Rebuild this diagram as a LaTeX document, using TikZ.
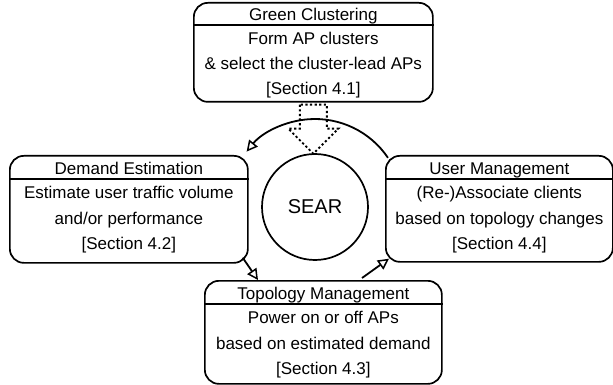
\documentclass[tikz,border=0pt]{standalone}
\usepackage{fontspec}
\setmainfont{Liberation Sans}
\usetikzlibrary{arrows.meta,calc}
\begin{document}
\begin{tikzpicture}[x=1pt,y=-1pt,
  box/.style={draw,line width=1.7pt,rounded corners=14pt,inner sep=0pt,anchor=north west},
  hline/.style={line width=1.4pt},
  txt/.style={font=\fontsize{17}{20}\selectfont,inner sep=0pt,anchor=base},
  arr/.style={line width=1.8pt,-{Triangle[open,length=11pt,width=11pt,line width=1.5pt]}},
  dots/.style={line width=1.9pt,dash pattern=on 2.2pt off 2.4pt}]
\useasboundingbox (0,0) rectangle (613,385);
% boxes
\node[box,minimum width=239pt,minimum height=99pt] (gc) at (193,2) {};
\node[box,minimum width=238pt,minimum height=107pt] (de) at (9,155) {};
\node[box,minimum width=227pt,minimum height=106pt] (um) at (385,155) {};
\node[box,minimum width=237pt,minimum height=103pt] (tm) at (204,280) {};
\node[draw,circle,line width=1.7pt,minimum size=106pt,inner sep=0pt,font=\fontsize{20}{24}\selectfont] (sear) at (315,207) {SEAR};
% header lines
\draw[hline] ($(gc.north west)+(0,23)$) -- ($(gc.north east)+(0,23)$);
\draw[hline] ($(de.north west)+(0,24)$) -- ($(de.north east)+(0,24)$);
\draw[hline] ($(um.north west)+(0,24)$) -- ($(um.north east)+(0,24)$);
\draw[hline] ($(tm.north west)+(0,24)$) -- ($(tm.north east)+(0,24)$);
% texts
\node[txt] (gc0) at ($(gc.north)+(0,19)$) {Green Clustering};
\node[txt] (gc1) at ($(gc.north)+(0,43)$) {Form AP clusters};
\node[txt] (gc2) at ($(gc.north)+(0,68)$) {\& select the cluster-lead APs};
\node[txt] (gc3) at ($(gc.north)+(0,93)$) {[Section 4.1]};
\node[txt] (de0) at ($(de.north)+(0,19)$) {Demand Estimation};
\node[txt] (de1) at ($(de.north)+(0,43)$) {Estimate user traffic volume};
\node[txt] (de2) at ($(de.north)+(0,69)$) {and/or performance};
\node[txt] (de3) at ($(de.north)+(0,94)$) {[Section 4.2]};
\node[txt] (um0) at ($(um.north)+(0,19)$) {User Management};
\node[txt] (um1) at ($(um.north)+(0,43)$) {(Re-)Associate clients};
\node[txt] (um2) at ($(um.north)+(0,69)$) {based on topology changes};
\node[txt] (um3) at ($(um.north)+(0,94)$) {[Section 4.4]};
\node[txt] (tm0) at ($(tm.north)+(0,19)$) {Topology Management};
\node[txt] (tm1) at ($(tm.north)+(0,43)$) {Power on or off APs};
\node[txt] (tm2) at ($(tm.north)+(0,69)$) {based on estimated demand};
\node[txt] (tm3) at ($(tm.north)+(0,94)$) {[Section 4.3]};
% cycle arc
\draw[arr] (sear.center) ++(-34:88) arc[start angle=-34,end angle=-141,radius=88];
% arrows between boxes
\draw[arr] ($(de.south east)+(-6,-6)$) -- ($(tm.north west)+(54,0)$);
\draw[arr] ($(tm.north west)+(158,-2)$) -- ($(um.south west)+(4,-4)$);
% dotted block arrow
\draw[dots] ($(gc.south)+(-13.5,2)$) -- ($(gc.south)+(-13.5,26)$) -- ($(gc.south)+(-25,26)$)
  -- ($(gc.south)+(0,51)$) -- ($(gc.south)+(25,26)$) -- ($(gc.south)+(13.5,26)$)
  -- ($(gc.south)+(13.5,2)$) -- cycle;
\end{tikzpicture}
\end{document}
